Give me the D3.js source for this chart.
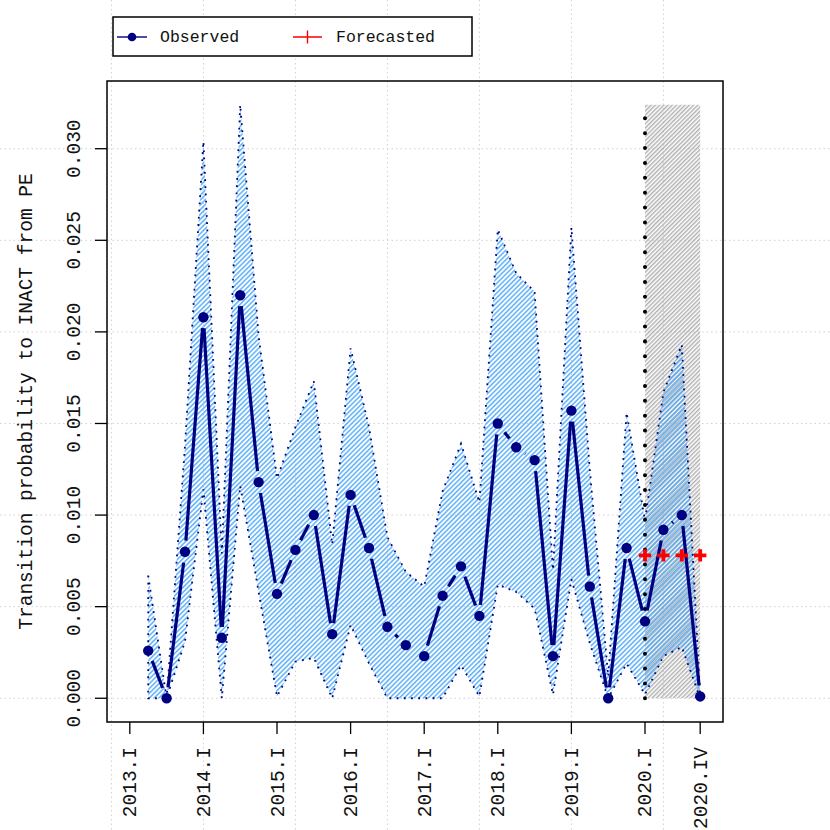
<!DOCTYPE html>
<html>
<head>
<meta charset="utf-8">
<script src="https://cdn.jsdelivr.net/npm/d3@7"></script>
<style>
  html, body { margin: 0; padding: 0; background: #ffffff; }
  svg { display: block; }
  text { font-family: "Liberation Mono", "Courier New", "DejaVu Sans Mono", monospace; fill: #111; }
</style>
</head>
<body>
<div id="chart"></div>
<script>
// ---------------- data ----------------
const allQuarters = [
  "2013.I","2013.II","2013.III","2013.IV",
  "2014.I","2014.II","2014.III","2014.IV",
  "2015.I","2015.II","2015.III","2015.IV",
  "2016.I","2016.II","2016.III","2016.IV",
  "2017.I","2017.II","2017.III","2017.IV",
  "2018.I","2018.II","2018.III","2018.IV",
  "2019.I","2019.II","2019.III","2019.IV",
  "2020.I","2020.II","2020.III","2020.IV"
];
const obsQuarters = allQuarters.slice(1);   // 2013.II .. 2020.IV
const observed = [0.0026, 0.0000, 0.0080, 0.0208, 0.0033, 0.0220, 0.0118, 0.0057, 0.0081, 0.0100,
                  0.0035, 0.0111, 0.0082, 0.0039, 0.0029, 0.0023, 0.0056, 0.0072, 0.0045, 0.0150,
                  0.0137, 0.0130, 0.0023, 0.0157, 0.0061, 0.0000, 0.0082, 0.0042, 0.0092, 0.0100, 0.0001];
const upper    = [0.0067, 0.0000, 0.0138, 0.0304, 0.0079, 0.0324, 0.0198, 0.0120, 0.0148, 0.0173,
                  0.0084, 0.0191, 0.0148, 0.0088, 0.0069, 0.0061, 0.0113, 0.0139, 0.0107, 0.0256,
                  0.0232, 0.0222, 0.0070, 0.0257, 0.0125, 0.0012, 0.0156, 0.0097, 0.0167, 0.0193, 0.0001];
const lower    = [0.0000, 0.0000, 0.0031, 0.0114, 0.0000, 0.0116, 0.0058, 0.0001, 0.0020, 0.0022,
                  0.0000, 0.0040, 0.0019, 0.0000, 0.0000, 0.0000, 0.0000, 0.0018, 0.0001, 0.0062,
                  0.0058, 0.0049, 0.0002, 0.0065, 0.0030, 0.0000, 0.0019, 0.0002, 0.0023, 0.0028, 0.0000];
const fcQuarters = ["2020.I","2020.II","2020.III","2020.IV"];
const forecast   = [0.0078, 0.0078, 0.0078, 0.0078];
const xTickLabels = ["2013.I","2014.I","2015.I","2016.I","2017.I","2018.I","2019.I","2020.I","2020.IV"];
const yTickValues = [0.000, 0.005, 0.010, 0.015, 0.020, 0.025, 0.030];
const yLabel = "Transition probability to INACT from PE";
const legendLabels = ["Observed", "Forecasted"];

// ---------------- layout ----------------
const W = 830, H = 830;
const plot = {left: 107, right: 723, top: 81, bottom: 722};
const NAVY = "#000080";

const svg = d3.select("#chart").append("svg").attr("width", W).attr("height", H);

const idx = q => allQuarters.indexOf(q);
const nQ = allQuarters.length - 1;
const x = d3.scaleLinear().domain([0 - 0.04 * nQ, nQ + 0.04 * nQ]).range([plot.left, plot.right]);
const ymax = d3.max(upper);
const y = d3.scaleLinear().domain([0 - 0.04 * ymax, ymax + 0.04 * ymax]).range([plot.bottom, plot.top]);

// patterns
const defs = svg.append("defs");
const pb = defs.append("pattern").attr("id", "hatchBlue").attr("patternUnits", "userSpaceOnUse")
  .attr("width", 3.4).attr("height", 3.4).attr("patternTransform", "rotate(45)");
pb.append("line").attr("x1", 0.8).attr("y1", -1).attr("x2", 0.8).attr("y2", 5)
  .attr("stroke", "#4aa8f8").attr("stroke-width", 1.35);
const pg = defs.append("pattern").attr("id", "hatchGrey").attr("patternUnits", "userSpaceOnUse")
  .attr("width", 3).attr("height", 3).attr("patternTransform", "rotate(45)");
pg.append("line").attr("x1", 0.75).attr("y1", -1).attr("x2", 0.75).attr("y2", 4)
  .attr("stroke", "#a8a8a8").attr("stroke-width", 1.3);

// gridlines (span whole figure)
const gridX = d3.ticks(x.domain()[0] + 1, x.domain()[1] + 1, 7).map(v => v - 1);
const grid = svg.append("g").attr("stroke", "#d0d0d0").attr("stroke-width", 1).attr("stroke-dasharray", "1.5 3");
grid.selectAll("line.gx").data(gridX).join("line").attr("class", "gx")
  .attr("x1", d => x(d)).attr("x2", d => x(d)).attr("y1", 0).attr("y2", H);
grid.selectAll("line.gy").data(yTickValues).join("line").attr("class", "gy")
  .attr("x1", 0).attr("x2", W).attr("y1", d => y(d)).attr("y2", d => y(d));

// forecast region (grey hatch)
svg.append("rect")
  .attr("x", x(idx(fcQuarters[0]))).attr("y", y(ymax))
  .attr("width", x(idx(fcQuarters[fcQuarters.length - 1])) - x(idx(fcQuarters[0])))
  .attr("height", y(0) - y(ymax))
  .attr("fill", "url(#hatchGrey)");

// confidence band
const bandData = obsQuarters.map((q, i) => ({i: idx(q), lo: lower[i], hi: upper[i]}));
const area = d3.area().x(d => x(d.i)).y0(d => y(d.lo)).y1(d => y(d.hi));
svg.append("path").datum(bandData).attr("d", area).attr("fill", "url(#hatchBlue)");
const outline = bandData.map(d => [x(d.i), y(d.hi)])
  .concat(bandData.slice().reverse().map(d => [x(d.i), y(d.lo)]));
svg.append("path").attr("d", d3.line()(outline) + "Z")
  .attr("fill", "none").attr("stroke", NAVY).attr("stroke-width", 1.8).attr("stroke-dasharray", "1.8 5.4");

// vertical dotted line at forecast start
svg.append("line")
  .attr("x1", x(idx(fcQuarters[0]))).attr("x2", x(idx(fcQuarters[0])))
  .attr("y1", y(0)).attr("y2", y(ymax))
  .attr("stroke", "#000").attr("stroke-width", 4).attr("stroke-linecap", "round")
  .attr("stroke-dasharray", "0.01 14.86");

// observed line with gaps (type = "b")
const pts = obsQuarters.map((q, i) => [x(idx(q)), y(observed[i])]);
const gap = 11;
const segs = [];
for (let k = 0; k < pts.length - 1; k++) {
  const [x0, y0] = pts[k], [x1, y1] = pts[k + 1];
  const L = Math.hypot(x1 - x0, y1 - y0);
  if (L > 2 * gap) {
    const ux = (x1 - x0) / L, uy = (y1 - y0) / L;
    segs.push([x0 + ux * gap, y0 + uy * gap, x1 - ux * gap, y1 - uy * gap]);
  }
}
svg.append("g").selectAll("line").data(segs).join("line")
  .attr("x1", d => d[0]).attr("y1", d => d[1]).attr("x2", d => d[2]).attr("y2", d => d[3])
  .attr("stroke", NAVY).attr("stroke-width", 3.2);
svg.append("g").selectAll("circle").data(pts).join("circle")
  .attr("cx", d => d[0]).attr("cy", d => d[1]).attr("r", 5.2).attr("fill", NAVY);

// forecast markers
const plus = (s) => `M${-s},0H${s}M0,${-s}V${s}`;
svg.append("g").selectAll("path").data(fcQuarters.map((q, i) => [x(idx(q)), y(forecast[i])])).join("path")
  .attr("transform", d => `translate(${d[0]},${d[1]})`)
  .attr("d", plus(6.2)).attr("stroke", "#ff0000").attr("stroke-width", 3.8).attr("fill", "none");

// box
svg.append("rect").attr("x", plot.left).attr("y", plot.top)
  .attr("width", plot.right - plot.left).attr("height", plot.bottom - plot.top)
  .attr("fill", "none").attr("stroke", "#000").attr("stroke-width", 1.5);

// y axis
const FS = 19.5;
const yAx = svg.append("g");
yAx.selectAll("line").data(yTickValues).join("line")
  .attr("x1", plot.left).attr("x2", plot.left - 12).attr("y1", d => y(d)).attr("y2", d => y(d))
  .attr("stroke", "#000").attr("stroke-width", 1.3);
yAx.selectAll("text").data(yTickValues).join("text")
  .attr("transform", d => `translate(80,${y(d)}) rotate(-90)`)
  .attr("text-anchor", "middle").attr("font-size", FS)
  .text(d => d3.format(".3f")(d));
svg.append("text")
  .attr("transform", `translate(32,${(plot.top + plot.bottom) / 2}) rotate(-90)`)
  .attr("text-anchor", "middle").attr("font-size", FS).text(yLabel);

// x axis
const xAx = svg.append("g");
xAx.selectAll("line").data(xTickLabels).join("line")
  .attr("x1", d => x(idx(d))).attr("x2", d => x(idx(d))).attr("y1", plot.bottom).attr("y2", plot.bottom + 12)
  .attr("stroke", "#000").attr("stroke-width", 1.3);
xAx.selectAll("text").data(xTickLabels).join("text")
  .attr("transform", d => `translate(${x(idx(d)) + 6.5},747) rotate(-90)`)
  .attr("text-anchor", "end").attr("font-size", FS).text(d => d);

// legend
const lg = svg.append("g");
lg.append("rect").attr("x", 113).attr("y", 17).attr("width", 359).attr("height", 39)
  .attr("fill", "#fff").attr("stroke", "#000").attr("stroke-width", 1.5);
lg.append("line").attr("x1", 117).attr("x2", 147).attr("y1", 37).attr("y2", 37).attr("stroke", NAVY).attr("stroke-width", 1.4);
lg.append("circle").attr("cx", 132).attr("cy", 37).attr("r", 4.3).attr("fill", NAVY);
lg.append("text").attr("x", 160).attr("y", 37).attr("dy", "0.33em").attr("font-size", 16.5).text(legendLabels[0]);
lg.append("path").attr("transform", "translate(307.5,37)").attr("d", `M-14.5,0H14.5M0,-6.5V6.5`)
  .attr("stroke", "#ff0000").attr("stroke-width", 1.4).attr("fill", "none");
lg.append("text").attr("x", 336).attr("y", 37).attr("dy", "0.33em").attr("font-size", 16.5).text(legendLabels[1]);
</script>
</body>
</html>
